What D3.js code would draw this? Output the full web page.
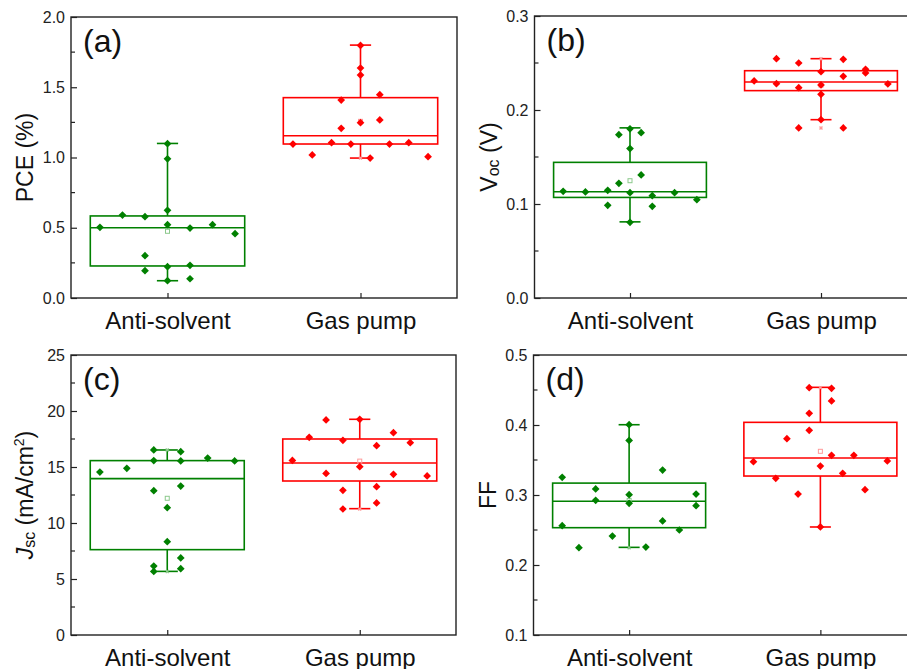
<!DOCTYPE html>
<html><head><meta charset="utf-8">
<script src="https://cdn.jsdelivr.net/npm/d3@7"></script>
<style>body{margin:0;background:#fff}svg{display:block;font-family:"Liberation Sans",Arial,sans-serif}</style>
</head><body><svg id="chart" width="907" height="669"></svg>
<script>
const categories = ["Anti-solvent", "Gas pump"];

// (a) PCE (%)
const pceAnti      = [0.503,0.590,0.579,0.301,0.194,1.098,0.991,0.624,0.522,0.223,0.123,0.498,0.233,0.137,0.522,0.458];
const pceAntiSlot  = [-3,-2,-1,-1,-1,0,0,0,0,0,0,1,1,1,2,3];
const pceAntiBox   = [0.123,0.228,0.500,0.584,1.100]; // whiskerLow, Q1, median, Q3, whiskerHigh
const pceGas       = [1.096,1.018,1.105,1.409,1.208,1.096,1.798,1.637,1.587,1.248,0.996,1.447,1.267,1.096,1.105,1.006];
const pceGasSlot   = [-7,-5,-3,-2,-2,-1,0,0,0,0,1,2,2,3,5,7];
const pceGasBox    = [0.996,1.096,1.155,1.426,1.800];
const pceTicks     = [0,0.5,1.0,1.5,2.0];

// (b) Voc (V)
const vocAnti      = [0.1135,0.1128,0.1145,0.0986,0.1738,0.122,0.180,0.159,0.112,0.0805,0.1759,0.1309,0.1089,0.0975,0.112,0.1046];
const vocAntiSlot  = [-6,-4,-2,-2,-1,-1,0,0,0,0,1,1,2,2,4,6];
const vocAntiBox   = [0.081,0.107,0.113,0.1443,0.181];
const vocGas       = [0.2309,0.2546,0.228,0.25,0.2237,0.1809,0.2408,0.2266,0.2167,0.1897,0.2539,0.2358,0.1809,0.2433,0.2394,0.2277];
const vocGasSlot   = [-3,-2,-2,-1,-1,-1,0,0,0,0,1,1,1,2,2,3];
const vocGasBox    = [0.1897,0.2206,0.2298,0.2418,0.2546];
const vocTicks     = [0,0.1,0.2,0.3];

// (c) Jsc (mA/cm2)
const jscAnti      = [14.55,14.88,16.52,15.57,12.89,6.16,5.68,11.37,8.33,16.37,15.54,13.30,6.88,5.92,15.80,15.54];
const jscAntiSlot  = [-5,-3,-1,-1,-1,-1,-1,0,0,1,1,1,1,1,3,5];
const jscAntiBox   = [5.68,7.62,13.96,15.57,16.52];
const jscGas       = [15.59,17.65,19.20,14.43,17.38,12.92,11.25,19.26,15.03,16.90,13.24,11.79,18.06,14.35,17.17,14.20];
const jscGasSlot   = [-4,-3,-2,-2,-1,-1,-1,0,0,1,1,1,2,2,3,4];
const jscGasBox    = [11.28,13.75,15.36,17.50,19.26];
const jscTicks     = [0,5,10,15,20,25];

// (d) FF
const ffAnti       = [0.3253,0.2562,0.2248,0.3086,0.2924,0.2414,0.4004,0.378,0.3004,0.2881,0.2257,0.3357,0.2629,0.25,0.3014,0.2848];
const ffAntiSlot   = [-4,-4,-3,-2,-2,-1,0,0,0,0,1,2,2,3,4,4];
const ffAntiBox    = [0.2252,0.2533,0.291,0.317,0.4004];
const ffGas        = [0.3476,0.3238,0.3805,0.3014,0.4533,0.4167,0.3924,0.3414,0.2543,0.4524,0.4343,0.3567,0.331,0.3567,0.3076,0.3486];
const ffGasSlot    = [-6,-4,-3,-2,-1,-1,-1,0,0,1,1,1,2,3,4,6];
const ffGasBox     = [0.2543,0.3271,0.3529,0.4038,0.4538];
const ffTicks      = [0.1,0.2,0.3,0.4,0.5];

const colors = ["#008000", "#ff0000"];
const lightColors = ["#8cc98c", "#ff9a9a"];

const panels = [
  {label:"(a)", title:"pce", box:{left:71, right:457, top:17, bottom:298},
   groups:[[pceAnti,pceAntiSlot,pceAntiBox],[pceGas,pceGasSlot,pceGasBox]],
   ticks:pceTicks, fmt:d3.format(".1f")},
  {label:"(b)", title:"voc", box:{left:534.5, right:916.5, top:16, bottom:298},
   groups:[[vocAnti,vocAntiSlot,vocAntiBox],[vocGas,vocGasSlot,vocGasBox]],
   ticks:vocTicks, fmt:d3.format(".1f")},
  {label:"(c)", title:"jsc", box:{left:71, right:456, top:355, bottom:635},
   groups:[[jscAnti,jscAntiSlot,jscAntiBox],[jscGas,jscGasSlot,jscGasBox]],
   ticks:jscTicks, fmt:d3.format("d")},
  {label:"(d)", title:"ff", box:{left:533.5, right:916, top:355, bottom:635},
   groups:[[ffAnti,ffAntiSlot,ffAntiBox],[ffGas,ffGasSlot,ffGasBox]],
   ticks:ffTicks, fmt:d3.format(".1f")}
];

const svg = d3.select("#chart");
const axisColor = "#222";

panels.forEach(p => {
  const b = p.box;
  const g = svg.append("g");
  const x = d3.scalePoint().domain(categories).range([b.left, b.right]).padding(0.5);
  const step = x.step();
  const y = d3.scaleLinear().domain([p.ticks[0], p.ticks[p.ticks.length-1]]).range([b.bottom, b.top]);

  const minor = [];
  for (let i = 0; i < p.ticks.length-1; i++) minor.push((p.ticks[i]+p.ticks[i+1])/2);

  const yAxis = d3.axisLeft(y).tickValues(p.ticks).tickFormat(p.fmt).tickSizeInner(-6).tickSizeOuter(0).tickPadding(6);
  const ya = g.append("g").attr("transform", `translate(${b.left},0)`).call(yAxis);
  ya.select(".domain").remove();
  ya.selectAll(".tick line").attr("stroke", axisColor).attr("stroke-width", 1.2);
  ya.selectAll(".tick text").attr("font-size", 16).attr("fill", "#222")
    .attr("font-family", '"Liberation Sans", Arial, sans-serif');
  g.append("g").selectAll("line").data(minor).join("line")
    .attr("x1", b.left).attr("x2", b.left + 4)
    .attr("y1", d => y(d)).attr("y2", d => y(d))
    .attr("stroke", axisColor).attr("stroke-width", 1.2);

  const xAxis = d3.axisBottom(x).tickSizeInner(-5).tickSizeOuter(0).tickPadding(14);
  const xa = g.append("g").attr("transform", `translate(0,${b.bottom})`).call(xAxis);
  xa.select(".domain").remove();
  xa.selectAll(".tick line").attr("stroke", axisColor).attr("stroke-width", 1.2);
  xa.selectAll(".tick text").attr("font-size", 24).attr("fill", "#111")
    .attr("font-family", '"Liberation Sans", Arial, sans-serif');

  g.append("rect").attr("x", b.left).attr("y", b.top)
    .attr("width", b.right - b.left).attr("height", b.bottom - b.top)
    .attr("fill", "none").attr("stroke", axisColor).attr("stroke-width", 1.4);

  g.append("text").attr("x", b.left + 12).attr("y", b.top + 35)
    .attr("font-size", 32).attr("fill", "#111").text(p.label);

  const cy = (b.top + b.bottom) / 2;
  const t = g.append("text").attr("transform", `translate(${b.left - 38},${cy}) rotate(-90)`)
    .attr("text-anchor", "middle").attr("font-size", 23).attr("fill", "#111");
  if (p.title === "pce") t.text("PCE (%)");
  if (p.title === "ff") t.text("FF");
  if (p.title === "voc") {
    t.append("tspan").text("V");
    t.append("tspan").attr("font-size", 16).attr("dy", 2).text("oc");
    t.append("tspan").attr("dy", -2).text(" (V)");
  }
  if (p.title === "jsc") {
    t.append("tspan").attr("font-style", "italic").text("J");
    t.append("tspan").attr("font-size", 16).attr("dy", 2).text("sc");
    t.append("tspan").attr("dy", -2).text(" (mA/cm");
    t.append("tspan").attr("font-size", 14).attr("dy", -9).text("2");
    t.append("tspan").attr("dy", 9).text(")");
  }

  p.groups.forEach((grp, gi) => {
    const [vals, slots, bx] = grp;
    const cx = x(categories[gi]);
    const col = colors[gi];
    const hw = step * 0.4;
    const cap = step * 0.055;
    const maxSlot = d3.max(slots.map(Math.abs));
    const spread = step * 0.35;
    const bg = g.append("g");
    bg.append("line").attr("x1", cx).attr("x2", cx).attr("y1", y(bx[0])).attr("y2", y(bx[1]))
      .attr("stroke", col).attr("stroke-width", 1.6);
    bg.append("line").attr("x1", cx).attr("x2", cx).attr("y1", y(bx[3])).attr("y2", y(bx[4]))
      .attr("stroke", col).attr("stroke-width", 1.6);
    [bx[0], bx[4]].forEach(v => bg.append("line").attr("x1", cx - cap).attr("x2", cx + cap)
      .attr("y1", y(v)).attr("y2", y(v)).attr("stroke", col).attr("stroke-width", 1.6));
    bg.append("rect").attr("x", cx - hw).attr("y", y(bx[3])).attr("width", hw * 2)
      .attr("height", y(bx[1]) - y(bx[3])).attr("fill", "none").attr("stroke", col).attr("stroke-width", 1.6);
    bg.append("line").attr("x1", cx - hw).attr("x2", cx + hw).attr("y1", y(bx[2])).attr("y2", y(bx[2]))
      .attr("stroke", col).attr("stroke-width", 1.6);
    [d3.min(vals), d3.max(vals)].forEach(v => {
      bg.append("path").attr("transform", `translate(${cx},${y(v)}) rotate(45)`)
        .attr("d", d3.symbol(d3.symbolCross, 10)()).attr("fill", lightColors[gi]);
    });
    const m = d3.mean(vals);
    bg.append("rect").attr("x", cx - 2).attr("y", y(m) - 2).attr("width", 4).attr("height", 4)
      .attr("fill", "none").attr("stroke", lightColors[gi]).attr("stroke-width", 1);
    bg.selectAll("path.pt").data(vals.map((v, i) => ({v, s: slots[i]}))).join("path")
      .attr("class", "pt")
      .attr("transform", d => `translate(${cx + spread * d.s / maxSlot},${y(d.v)}) rotate(45)`)
      .attr("d", d3.symbol(d3.symbolSquare, 30)())
      .attr("fill", col);
  });
});
</script></body></html>
